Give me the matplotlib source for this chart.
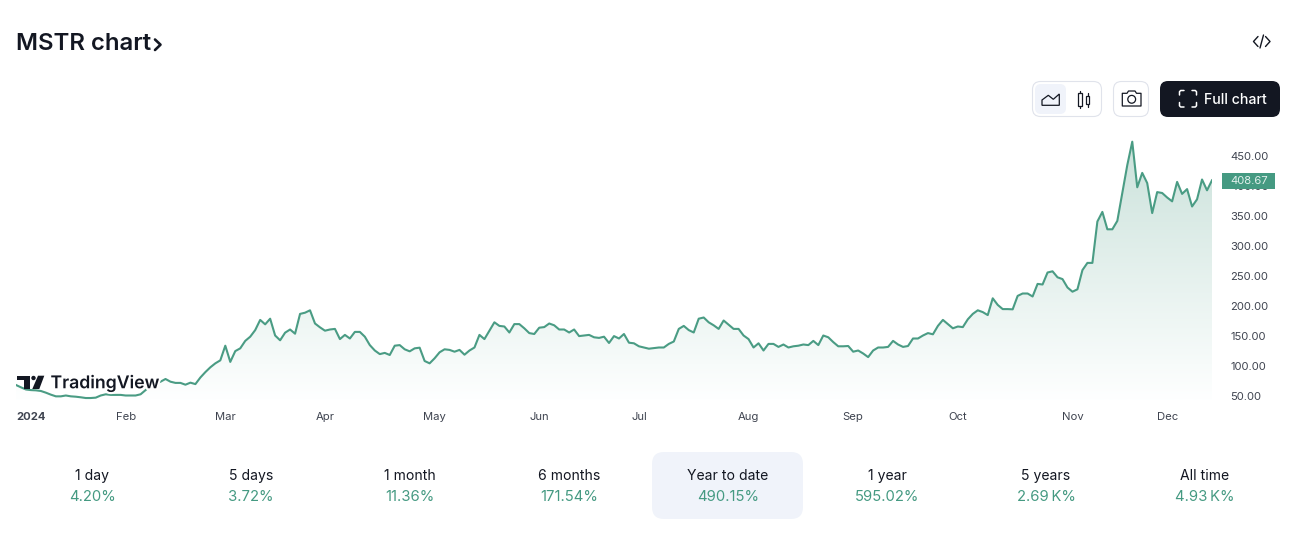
import matplotlib
matplotlib.use('Agg')
import matplotlib.pyplot as plt
import matplotlib.patheffects as pe
from matplotlib.colors import LinearSegmentedColormap
from matplotlib.patches import Circle, FancyBboxPatch, Polygon, Rectangle
import numpy as np

plt.rcParams['font.family'] = ['Inter', 'DejaVu Sans']

# Daily closes
prices = [
    67.5, 63.6, 60, 59, 58.6, 57.5, 54.7, 51.4, 48.6, 48.6, 50, 48.6, 48, 47, 45.8, 45.8, 46.4, 50, 52, 51,
    51, 51, 50, 50, 50, 52, 59, 66, 70, 73, 77.5, 73, 71, 71, 68, 71.4, 69, 80, 89, 97,
    103.6, 108.6, 133, 106, 124, 128.6, 141, 148, 159, 176, 168.6, 178, 150, 142, 154.7, 160, 153, 186, 188, 192,
    170, 163.6, 158, 160, 161, 144, 151, 145, 156, 156, 148, 134, 125, 119, 121, 117.5, 133, 134, 127, 123.6,
    128.6, 129.7, 107.5, 103.6,
    112, 122, 127, 126, 123, 126, 118, 125, 130, 151, 144, 158, 172, 166, 165, 155, 169, 169, 162, 154,
    152.5, 163, 164, 170, 167, 160, 160, 155, 160, 149, 150, 151, 147, 146, 148, 137.5, 149, 145, 152.5, 138,
    137, 132, 130, 128, 129, 130, 130, 136, 140, 161, 166, 159, 155, 178, 180, 172, 167, 161, 175, 168,
    161, 161, 150, 144, 130, 137, 125, 136, 136, 131, 135, 130, 132, 133, 135, 134, 141, 134, 150, 147,
    139, 132, 132, 132.5,
    123, 125, 120, 114, 125, 130, 130, 131, 141, 135, 131, 132.5, 145, 145, 150, 154, 152, 166, 176, 169,
    162, 165, 164, 177, 186, 192, 189, 184, 212, 201, 194, 194, 193.6, 216, 220, 220, 215, 236, 235, 255,
    257, 247, 244, 230, 223, 227, 259, 271, 271, 340, 356, 327, 327, 341, 387, 434, 473, 397, 421, 404,
    354, 389, 387.5, 380, 373.6, 406, 386, 394, 365, 377, 410, 392, 408.67,
]
last_price = 408.67

y_ticks = [50, 100, 150, 200, 250, 300, 350, 400, 450]
month_labels = ['2024', 'Feb', 'Mar', 'Apr', 'May', 'Jun', 'Jul', 'Aug', 'Sep', 'Oct', 'Nov', 'Dec']
month_idx = [3, 22, 42, 62, 84, 105, 125, 147, 168, 189, 212, 231]

period_labels = ['1 day', '5 days', '1 month', '6 months', 'Year to date', '1 year', '5 years', 'All time']
period_changes = ['4.20%', '3.72%', '11.36%', '171.54%', '490.15%', '595.02%', '2.69\u2009K%', '4.93\u2009K%']

GREEN = '#4A9C84'
LABEL_GREEN = '#459A82'
DARK = '#131722'
GREY = '#3F4450'
PANEL = '#F0F3FA'
BORDER = '#E0E3EB'

W, H = 1293, 534
fig = plt.figure(figsize=(W / 100, H / 100), dpi=100, facecolor='white')

# Chart area, placed in pixels: x 16..1212, y 130..400
ax = fig.add_axes([16 / W, 1 - 400 / H, (1212 - 16) / W, 270 / H])
x = np.arange(len(prices))
ymin, ymax = 42.5, 492.5

cmap = LinearSegmentedColormap.from_list('fade', ['#FEFFFF', '#CBE2DB'])
grad = ax.imshow(np.linspace(1, 0, 256).reshape(-1, 1), cmap=cmap, aspect='auto',
                 extent=(0, len(prices) - 1, ymin, 473), zorder=1)
area = ax.fill_between(x, prices, ymin, color='none')
grad.set_clip_path(area.get_paths()[0], ax.transData)
ax.plot(x, prices, color=GREEN, lw=1.5, zorder=2, solid_joinstyle='round')

ax.set_xlim(0, len(prices) - 1)
ax.set_ylim(ymin, ymax)
ax.set_xticks(month_idx)
ax.set_xticklabels(month_labels, fontsize=8.1, color=GREY)
ax.get_xticklabels()[0].set_fontweight('bold')
ax.yaxis.tick_right()
ax.set_yticks(y_ticks)
ax.set_yticklabels([f'{v:.2f}' for v in y_ticks], fontsize=8.1, color=GREY)
ax.tick_params(axis='both', length=0)
ax.tick_params(axis='x', pad=8.3)
ax.tick_params(axis='y', pad=13.2)
ax.patch.set_alpha(0)
for spine in ax.spines.values():
    spine.set_visible(False)

# Page furniture, in pixel coordinates
ui = fig.add_axes([0, 0, 1, 1], zorder=5)
ui.set_xlim(0, W)
ui.set_ylim(H, 0)
ui.axis('off')


def round_box(x0, y0, x1, y1, r, face, edge='none', lw=1.0):
    ui.add_patch(FancyBboxPatch((x0 + r, y0 + r), x1 - x0 - 2 * r, y1 - y0 - 2 * r,
                                boxstyle=f'round,pad={r},rounding_size={r}',
                                facecolor=face, edgecolor=edge, linewidth=lw))


def stroke(xs, ys, color=DARK, lw=1.2):
    ui.plot(xs, ys, color=color, lw=lw, solid_capstyle='round', solid_joinstyle='round')


# Title
ui.text(16, 44.5, 'MSTR chart', fontsize=17.2, fontweight='semibold', color=DARK, va='center')
stroke([155, 160.5, 155], [39.5, 44.7, 50], lw=1.9)

# Embed icon
stroke([1258, 1253.5, 1258], [36.5, 41.5, 46.5], lw=1.0)
stroke([1265.5, 1270, 1265.5], [36.5, 41.5, 46.5], lw=1.0)
stroke([1263.5, 1260], [35, 48], lw=1.0)

# Series type buttons
round_box(1032.5, 81.5, 1101.5, 116.5, 8, 'white', BORDER, lw=0.8)
round_box(1035, 84, 1066, 114, 6, PANEL)
ui.add_patch(Polygon([(1042, 105.3), (1059.3, 105.3), (1059.3, 94), (1053.3, 99.3), (1048.3, 95.3), (1042, 100)],
                     closed=True, facecolor='none', edgecolor=DARK, lw=0.9))
stroke([1080, 1080], [90.7, 108.3], lw=0.9)
ui.add_patch(Rectangle((1078.2, 93.3), 3.6, 12.7, facecolor='white', edgecolor=DARK, lw=0.9, zorder=3))
stroke([1087.5, 1087.5], [93, 107.3], lw=0.9)
ui.add_patch(Rectangle((1085.7, 96.3), 3.6, 8, facecolor='white', edgecolor=DARK, lw=0.9, zorder=3))

# Camera button
round_box(1113.5, 81.5, 1148.5, 116.5, 8, 'white', BORDER, lw=0.8)
ui.add_patch(Polygon([(1122.3, 93.3), (1127, 93.3), (1128.5, 91), (1135, 91), (1136.5, 93.3), (1141, 93.3),
                      (1141, 106), (1122.3, 106)],
                     closed=True, facecolor='none', edgecolor=DARK, lw=0.9, joinstyle='round'))
ui.add_patch(Circle((1131.7, 99.3), 3.9, facecolor='none', edgecolor=DARK, lw=0.9))

# Full chart button
round_box(1160, 81, 1280, 117, 8, DARK)
for cx, cy, dx, dy in [(1179.5, 90.5, 1, 1), (1196.5, 90.5, -1, 1), (1179.5, 107, 1, -1), (1196.5, 107, -1, -1)]:
    stroke([cx, cx, cx + 1.2 * dx, cx + 4.5 * dx], [cy + 4.5 * dy, cy + 1.2 * dy, cy, cy], color='white', lw=1.1)
ui.text(1203.5, 99.5, 'Full chart', fontsize=10.2, fontweight='medium', color='white', va='center')

# Last price tag, it hides most of the 400.00 tick label as in the original
ui.add_patch(Rectangle((1222, 173), 53, 15.5, facecolor=LABEL_GREEN, edgecolor='none'))
ui.text(1249.5, 181.5, f'{last_price:.2f}', fontsize=8.1, color='#E2F0EC', ha='center', va='center')

# TradingView logo with its white halo
ui.add_patch(Polygon([(17.3, 375.7), (30, 375.7), (30, 389), (24, 389), (24, 380.2), (17.3, 380.2)],
                     closed=True, facecolor=DARK, edgecolor='none'))
ui.add_patch(Circle((33.5, 378), 2.2, facecolor=DARK, edgecolor='none'))
ui.add_patch(Polygon([(38, 375.7), (44.3, 375.7), (39.3, 389), (32.3, 389)],
                     closed=True, facecolor=DARK, edgecolor='none'))
ui.text(50.5, 383.5, 'TradingView', fontsize=12.7, fontweight='semibold', color=DARK, va='center',
        path_effects=[pe.withStroke(linewidth=3, foreground='white')])

# Performance row
round_box(652, 452, 803, 519, 12, PANEL)
for i, (label, change) in enumerate(zip(period_labels, period_changes)):
    cx = 92 + 159 * i
    ui.text(cx, 476, label, fontsize=10.1, color=DARK, ha='center', va='center')
    ui.text(cx, 497, change, fontsize=10.7, color=LABEL_GREEN, ha='center', va='center')

fig.savefig('out.png', dpi=100, facecolor='white')
